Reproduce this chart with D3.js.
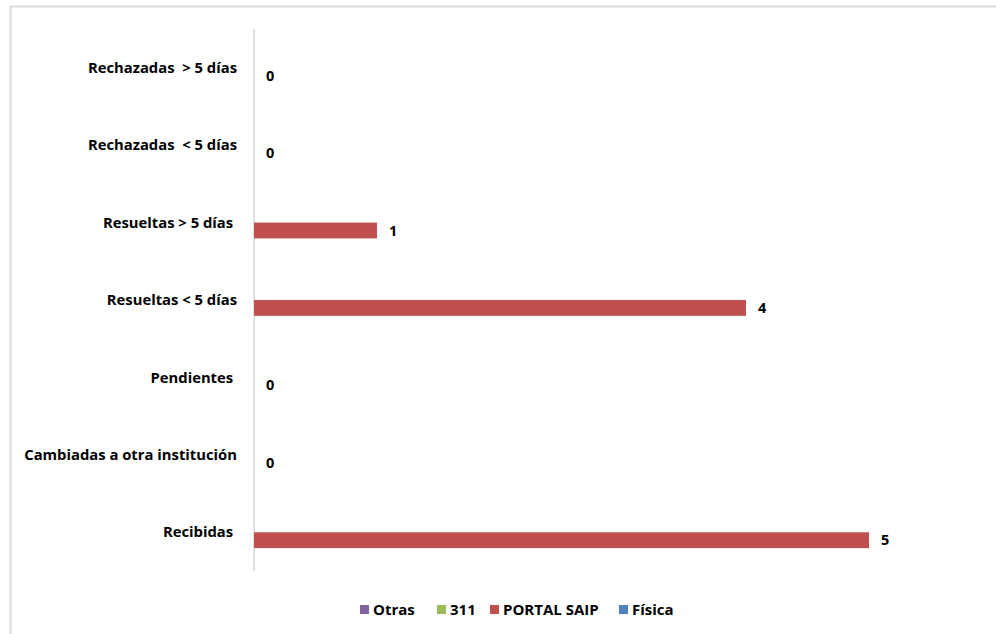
<!DOCTYPE html>
<html>
<head>
<meta charset="utf-8">
<script src="https://cdn.jsdelivr.net/npm/d3@7"></script>
<style>
  body { margin: 0; background: #fff; }
  text { font-family: "Open Sans", "Liberation Sans", sans-serif; font-weight: bold; fill: #000; }
</style>
</head>
<body>
<div id="chart"></div>
<script>
var width = 996;
var height = 634;

// categories, top to bottom (trailing spaces kept as in the original)
var categories = ["Rechazadas  > 5 días", "Rechazadas  < 5 días", "Resueltas > 5 días ",
    "Resueltas < 5 días", "Pendientes ", "Cambiadas a otra institución", "Recibidas "];

// series, in the order they sit inside each group (top to bottom)
var seriesNames = ["Otras", "311", "PORTAL SAIP", "Física"];
var seriesColors = ["#8064A2", "#9BBB59", "#C0504D", "#4F81BD"];

var otras = [null, null, null, null, null, null, null];
var tres11 = [null, null, null, null, null, null, null];
var portalSaip = [0, 0, 1, 4, 0, 0, 5];
var fisica = [null, null, null, null, null, null, null];
var seriesValues = [otras, tres11, portalSaip, fisica];

var svg = d3.select("#chart").append("svg")
    .attr("width", width)
    .attr("height", height);

// chart area border
svg.append("rect")
    .attr("x", 10.5)
    .attr("y", 6.5)
    .attr("width", 1000)
    .attr("height", 700)
    .style("fill", "none")
    .style("stroke", "#d9d9d9")
    .style("stroke-width", 2);

var x = d3.scaleLinear().domain([0, 5]).range([254, 869]);

var y = d3.scaleBand().domain(categories).range([29, 571]);

var inner = d3.scaleBand().domain(seriesNames)
    .range([0, y.bandwidth()])
    .paddingOuter(0.445);

// vertical axis line
svg.append("line")
    .attr("x1", x(0)).attr("x2", x(0))
    .attr("y1", y.range()[0]).attr("y2", y.range()[1])
    .style("stroke", "#d9d9d9")
    .style("stroke-width", 1.5);

// category labels
svg.selectAll(".cat")
    .data(categories)
    .enter().append("text")
    .attr("class", "cat")
    .attr("x", 237)
    .attr("y", function(d){ return y(d) + y.bandwidth() / 2; })
    .attr("dy", "0.35em")
    .attr("text-anchor", "end")
    .style("white-space", "pre")
    .style("font-size", "14.8px")
    .text(function(d){ return d; });

seriesNames.forEach(function(name, i){
    var vals = seriesValues[i];
    var pts = categories.map(function(c, j){ return {cat: c, v: vals[j]}; })
        .filter(function(d){ return d.v !== null; });

    svg.selectAll(".bar" + i)
        .data(pts)
        .enter().append("rect")
        .attr("x", x(0))
        .attr("y", function(d){ return y(d.cat) + inner(name); })
        .attr("width", function(d){ return x(d.v) - x(0); })
        .attr("height", inner.bandwidth())
        .style("fill", seriesColors[i]);

    svg.selectAll(".lbl" + i)
        .data(pts)
        .enter().append("text")
        .attr("x", function(d){ return x(d.v) + 12; })
        .attr("y", function(d){ return y(d.cat) + inner(name) + inner.bandwidth() / 2; })
        .attr("dy", "0.35em")
        .style("font-size", "14.5px")
        .text(function(d){ return d.v; });
});

// legend
var legendX = [360, 437, 490, 619];
var legend = svg.selectAll(".legend")
    .data(seriesNames)
    .enter().append("g")
    .attr("transform", function(d, i){ return "translate(" + legendX[i] + ",610)"; });

legend.append("rect")
    .attr("x", 0)
    .attr("y", -5)
    .attr("width", 9)
    .attr("height", 9)
    .style("fill", function(d, i){ return seriesColors[i]; });

legend.append("text")
    .attr("x", 13)
    .attr("y", 0)
    .attr("dy", "0.35em")
    .style("font-size", "15px")
    .text(function(d){ return d; });
</script>
</body>
</html>
